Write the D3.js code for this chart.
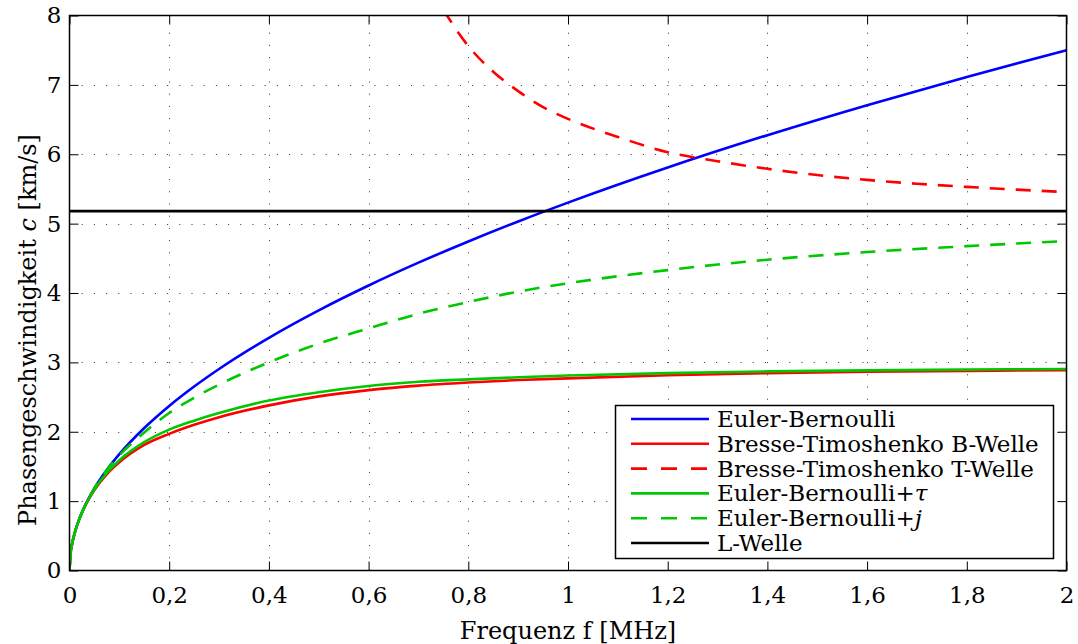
<!DOCTYPE html>
<html>
<head>
<meta charset="utf-8">
<script src="https://cdn.jsdelivr.net/npm/d3@7"></script>
<style>
    body { margin: 0; background: #fff; }
    text { font-family: "DejaVu Serif", serif; fill: #000; }
</style>
</head>
<body>
<div id="chart"></div>
<script>
// frequency grid [MHz] shared by the four curves starting at the origin
var freq = [0, 0.002, 0.005, 0.01, 0.02, 0.03, 0.05, 0.075, 0.1, 0.15, 0.2, 0.25, 0.3,
    0.4, 0.5, 0.6, 0.7, 0.8, 0.9, 1.0, 1.2, 1.4, 1.6, 1.8, 2.0];

// phase velocities [km/s]
var eulerBernoulli = [0, 0.237, 0.375, 0.53, 0.75, 0.918, 1.186, 1.452, 1.677, 2.054, 2.372, 2.652, 2.905,
    3.354, 3.75, 4.108, 4.437, 4.743, 5.031, 5.303, 5.809, 6.275, 6.708, 7.115, 7.5];
var bresseB = [0, 0.237, 0.374, 0.528, 0.745, 0.91, 1.16, 1.39, 1.56, 1.81, 1.97, 2.10, 2.21,
    2.38, 2.51, 2.60, 2.665, 2.71, 2.745, 2.77, 2.815, 2.845, 2.865, 2.878, 2.886];
var eulerTau = [0, 0.237, 0.375, 0.529, 0.747, 0.914, 1.17, 1.41, 1.59, 1.85, 2.03, 2.16, 2.27,
    2.45, 2.57, 2.66, 2.72, 2.755, 2.785, 2.81, 2.845, 2.87, 2.885, 2.896, 2.905];
var eulerJ = [0, 0.237, 0.375, 0.53, 0.75, 0.918, 1.185, 1.45, 1.66, 1.99, 2.27, 2.49, 2.68,
    3.00, 3.27, 3.49, 3.70, 3.87, 4.02, 4.14, 4.33, 4.48, 4.59, 4.675, 4.75];

var freqT = [0.75, 0.8, 0.85, 0.9, 0.95, 1.0, 1.1, 1.2, 1.3, 1.4, 1.5, 1.6, 1.7, 1.8, 1.9, 2.0];
var bresseT = [8.08, 7.56, 7.19, 6.91, 6.68, 6.51, 6.25, 6.03, 5.90, 5.79, 5.70, 5.63, 5.575, 5.53, 5.49, 5.455];

var freqL = [0, 2];
var lWave = [5.18, 5.18];

var xTicks = [0, 0.2, 0.4, 0.6, 0.8, 1, 1.2, 1.4, 1.6, 1.8, 2];
var yTicks = [0, 1, 2, 3, 4, 5, 6, 7, 8];

var legendLabels = [
    ["Euler-Bernoulli"],
    ["Bresse-Timoshenko B-Welle"],
    ["Bresse-Timoshenko T-Welle"],
    ["Euler-Bernoulli+", "τ"],
    ["Euler-Bernoulli+", "j"],
    ["L-Welle"]
];

var attrs = {
    width: 1078,
    height: 644,
    left: 69.5,
    right: 1066.5,
    top: 15.5,
    bottom: 570.5,
    tickLen: 9,
    lineWidth: 2.6,
    dash: "15,11",
    font: "DejaVu Serif",
    blue: "#0000ff",
    red: "#ff0000",
    green: "#00c800",
    black: "#000000"
};

var series = [
    { x: freq, y: eulerBernoulli, color: attrs.blue, dashed: false },
    { x: freq, y: bresseB, color: attrs.red, dashed: false },
    { x: freqT, y: bresseT, color: attrs.red, dashed: true },
    { x: freq, y: eulerTau, color: attrs.green, dashed: false },
    { x: freq, y: eulerJ, color: attrs.green, dashed: true },
    { x: freqL, y: lWave, color: attrs.black, dashed: false }
];

var locale = d3.formatLocale({ decimal: ",", thousands: ".", grouping: [3], currency: ["", " €"] });
var fmt = locale.format("~g");

var x = d3.scaleLinear().domain([0, 2]).range([attrs.left, attrs.right]);
var y = d3.scaleLinear().domain([0, 8]).range([attrs.bottom, attrs.top]);

var svg = d3.select("#chart").append("svg")
    .attr("width", attrs.width)
    .attr("height", attrs.height);

svg.append("defs").append("clipPath").attr("id", "plotclip")
    .append("rect")
    .attr("x", attrs.left)
    .attr("y", attrs.top)
    .attr("width", attrs.right - attrs.left)
    .attr("height", attrs.bottom - attrs.top);

// dotted grid
var grid = svg.append("g").attr("class", "grid");
grid.selectAll("line.gx").data(xTicks.slice(1, -1)).enter().append("line")
    .attr("x1", function(d){ return Math.round(x(d)) + 0.5; })
    .attr("x2", function(d){ return Math.round(x(d)) + 0.5; })
    .attr("y1", attrs.bottom)
    .attr("y2", attrs.top)
    .attr("stroke", "#333")
    .attr("stroke-dasharray", "1,11.2");
grid.selectAll("line.gy").data(yTicks.slice(1, -1)).enter().append("line")
    .attr("y1", function(d){ return Math.round(y(d)) + 0.5; })
    .attr("y2", function(d){ return Math.round(y(d)) + 0.5; })
    .attr("x1", attrs.left)
    .attr("x2", attrs.right)
    .attr("stroke", "#333")
    .attr("stroke-dasharray", "1,11.2");

// curves
var line = d3.line()
    .x(function(d){ return x(d[0]); })
    .y(function(d){ return y(d[1]); })
    .curve(d3.curveMonotoneX);

var plot = svg.append("g").attr("clip-path", "url(#plotclip)");
series.forEach(function(s){
    var pts = s.x.map(function(v, i){ return [v, s.y[i]]; });
    plot.append("path")
        .attr("d", line(pts))
        .attr("fill", "none")
        .attr("stroke", s.color)
        .attr("stroke-width", attrs.lineWidth)
        .attr("stroke-dasharray", s.dashed ? attrs.dash : null);
});

// axes, ticks pointing inward on all four sides
function styleAxis(g){
    g.attr("font-family", attrs.font);
    g.select(".domain").remove();
    g.selectAll(".tick line").attr("stroke", "#000").attr("stroke-width", 1);
    g.selectAll("text").style("font-family", attrs.font).style("font-size", "23px").attr("fill", "#000");
}

svg.append("g")
    .attr("transform", "translate(0," + attrs.bottom + ")")
    .call(d3.axisBottom(x).tickValues(xTicks).tickFormat(fmt).tickSize(-attrs.tickLen).tickPadding(16))
    .call(styleAxis);
svg.append("g")
    .attr("transform", "translate(0," + attrs.top + ")")
    .call(d3.axisTop(x).tickValues(xTicks).tickFormat("").tickSize(-attrs.tickLen))
    .call(styleAxis);
svg.append("g")
    .attr("transform", "translate(" + attrs.left + ",0)")
    .call(d3.axisLeft(y).tickValues(yTicks).tickFormat(fmt).tickSize(-attrs.tickLen).tickPadding(8))
    .call(styleAxis);
svg.append("g")
    .attr("transform", "translate(" + attrs.right + ",0)")
    .call(d3.axisRight(y).tickValues(yTicks).tickFormat("").tickSize(-attrs.tickLen))
    .call(styleAxis);

svg.append("rect")
    .attr("x", attrs.left)
    .attr("y", attrs.top)
    .attr("width", attrs.right - attrs.left)
    .attr("height", attrs.bottom - attrs.top)
    .attr("fill", "none")
    .attr("stroke", "#000")
    .attr("stroke-width", 1.5);

// axis titles
svg.append("text")
    .attr("x", (attrs.left + attrs.right) / 2)
    .attr("y", 639)
    .attr("text-anchor", "middle")
    .style("font-size", "24px")
    .text("Frequenz f [MHz]");

var yl = svg.append("text")
    .attr("transform", "translate(36,330) rotate(-90)")
    .attr("text-anchor", "middle")
    .style("font-size", "24px");
yl.append("tspan").text("Phasengeschwindigkeit ");
yl.append("tspan").style("font-style", "italic").text("c");
yl.append("tspan").text(" [km/s]");

// legend
var legend = svg.append("g");
legend.append("rect")
    .attr("x", 615.5)
    .attr("y", 405.5)
    .attr("width", 438)
    .attr("height", 153)
    .attr("fill", "#fff")
    .attr("stroke", "#000")
    .attr("stroke-width", 1.5);

var rowY = d3.scaleLinear().domain([0, 5]).range([419, 543]);
var rows = legend.selectAll("g.row").data(series).enter().append("g")
    .attr("transform", function(d, i){ return "translate(0," + rowY(i) + ")"; });
rows.append("line")
    .attr("x1", 631).attr("x2", 709)
    .attr("stroke", function(d){ return d.color; })
    .attr("stroke-width", attrs.lineWidth)
    .attr("stroke-dasharray", function(d){ return d.dashed ? "16,14" : null; });
rows.append("text")
    .attr("x", 717)
    .attr("y", 8)
    .style("font-size", "23px")
    .each(function(d, i){
        var t = d3.select(this);
        var parts = legendLabels[i];
        t.append("tspan").text(parts[0]);
        if (parts.length > 1) {
            t.append("tspan").style("font-style", "italic").text(parts[1]);
        }
    });
</script>
</body>
</html>
